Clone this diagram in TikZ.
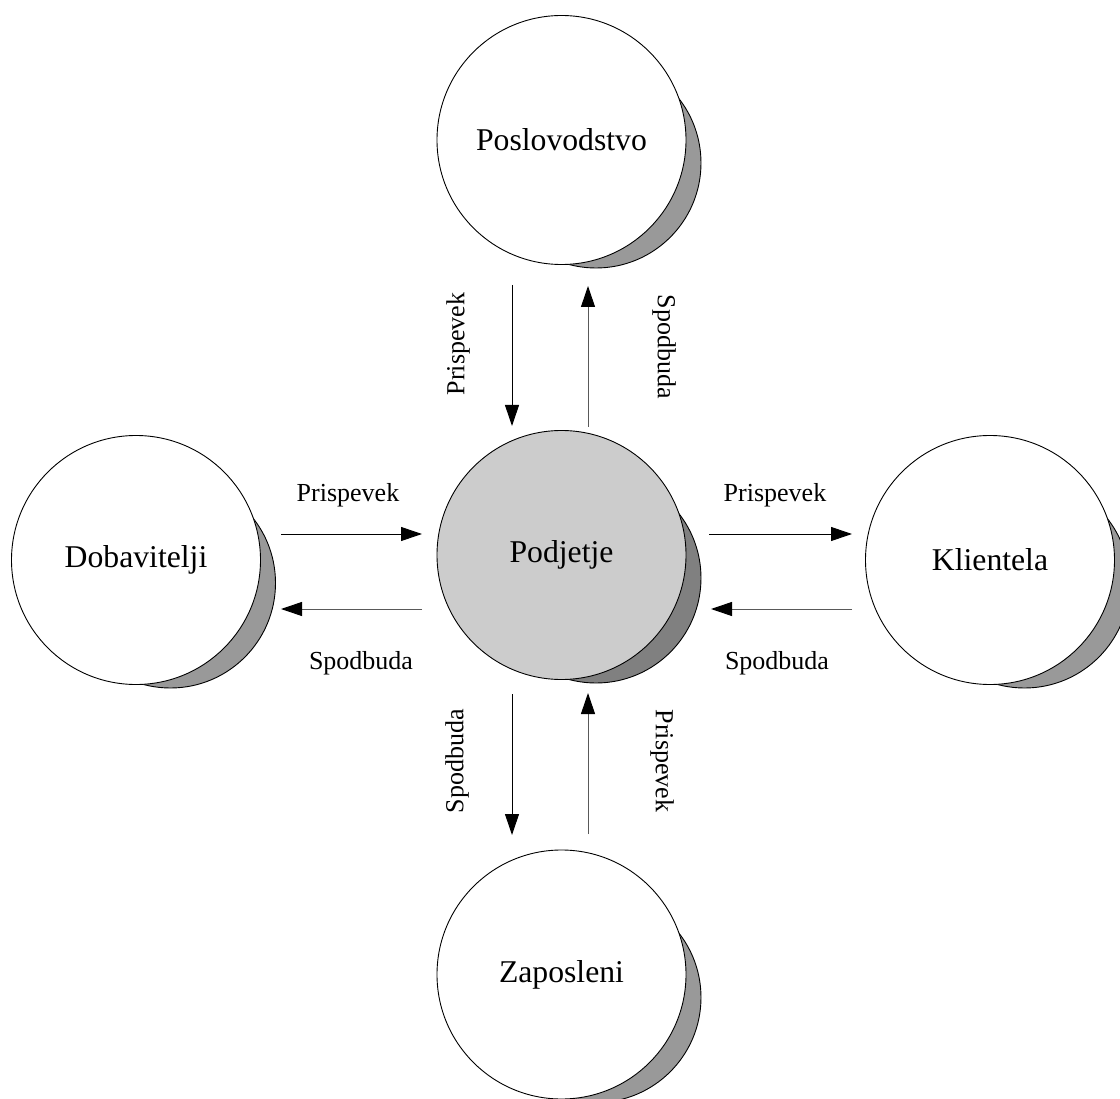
\documentclass[tikz,border=0pt]{standalone}
\usepackage{fontspec}
\setmainfont{Liberation Serif}
\usetikzlibrary{arrows.meta}
\definecolor{entfill}{HTML}{FFFFFF}
\definecolor{corefill}{HTML}{CCCCCC}
\definecolor{entshade}{HTML}{999999}
\definecolor{coreshade}{HTML}{808080}
\begin{document}
\begin{tikzpicture}[x=1pt,y=-1pt,
  ent/.style={circle,draw=black,line width=0.9pt,fill=entfill,minimum size=249pt,inner sep=0pt,
    font=\fontsize{31.7}{38}\selectfont},
  entshadow/.style={circle,draw=black,line width=0.9pt,fill=entshade,minimum size=210pt,inner sep=0pt},
  fwd/.style={draw=black,line width=1pt,-{Triangle[length=21pt,width=14pt]}},
  bwd/.style={draw=black!65,line width=1pt,-{Triangle[length=21pt,width=14pt,fill=black,color=black]}},
  lbl/.style={font=\fontsize{26}{30}\selectfont,inner sep=0pt}
]
\useasboundingbox (0,0) rectangle (1120,1099);

% circle centres
\coordinate (cpos) at (561.5,140);
\coordinate (cpod) at (561.5,555);
\coordinate (cdob) at (136,560);
\coordinate (ckli) at (990,560);
\coordinate (czap) at (561.5,974.5);

% shadows, offset down and to the right
\node[entshadow] (spos) at ([shift={(34.5,23)}]cpos) {};
\node[entshadow,fill=coreshade] (spod) at ([shift={(34.5,23)}]cpod) {};
\node[entshadow] (sdob) at ([shift={(34.5,23)}]cdob) {};
\node[entshadow] (skli) at ([shift={(34.5,23)}]ckli) {};
\node[entshadow] (szap) at ([shift={(34.5,23)}]czap) {};

% the five parties
\node[ent] (pos) at (cpos) {Poslovodstvo};
\node[ent,fill=corefill] (pod) at (cpod) {Podjetje};
\node[ent] (dob) at (cdob) {Dobavitelji};
\node[ent] (kli) at (ckli) {Klientela};
\node[ent] (zap) at (czap) {Zaposleni};

% arrow end points
\coordinate (dobA) at (281,534);   \coordinate (podA) at (422,534);
\coordinate (podB) at (422,609);   \coordinate (dobB) at (281,609);
\coordinate (podC) at (709,534);   \coordinate (kliC) at (852,534);
\coordinate (kliD) at (852,609);   \coordinate (podD) at (711,609);
\coordinate (posE) at (512,285);   \coordinate (podE) at (512,426);
\coordinate (podF) at (588,427);   \coordinate (posF) at (588,286);
\coordinate (podG) at (512,694);   \coordinate (zapG) at (512,835);
\coordinate (zapH) at (588,834);   \coordinate (podH) at (588,693);

\draw[fwd] (dobA) -- (podA);
\draw[bwd] (podB) -- (dobB);
\draw[fwd] (podC) -- (kliC);
\draw[bwd] (kliD) -- (podD);
\draw[fwd] (posE) -- (podE);
\draw[bwd] (podF) -- (posF);
\draw[fwd] (podG) -- (zapG);
\draw[bwd] (zapH) -- (podH);

% flow labels
\node[lbl] (l1) at (348,495) {Prispevek};
\node[lbl] (l2) at (361,663) {Spodbuda};
\node[lbl] (l3) at (775,495) {Prispevek};
\node[lbl] (l4) at (777,663) {Spodbuda};
\node[lbl,rotate=90] (l5) at (458,344) {Prispevek};
\node[lbl,rotate=-90] (l6) at (664,347) {Spodbuda};
\node[lbl,rotate=90] (l7) at (457,761) {Spodbuda};
\node[lbl,rotate=-90] (l8) at (662,761) {Prispevek};
\end{tikzpicture}
\end{document}
